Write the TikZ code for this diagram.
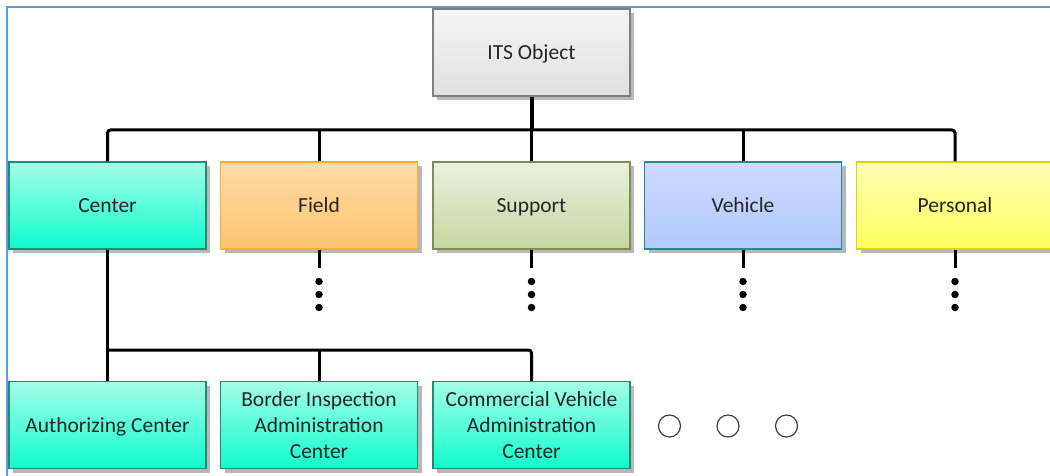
\documentclass[tikz,border=0pt]{standalone}
\usepackage{fontspec}
\setmainfont{Carlito}
\usetikzlibrary{shadows}
\definecolor{framec}{HTML}{5B9BD5}
\definecolor{txt}{HTML}{262626}
\definecolor{cenT}{HTML}{A4FDE8}\definecolor{cenB}{HTML}{0FFCCC}\definecolor{cenD}{HTML}{1E8C73}
\definecolor{fldT}{HTML}{FEDCA8}\definecolor{fldB}{HTML}{FCC46E}\definecolor{fldD}{HTML}{F7AC3C}
\definecolor{supT}{HTML}{EBF0DF}\definecolor{supB}{HTML}{C6D6A0}\definecolor{supD}{HTML}{7D8C55}
\definecolor{vehT}{HTML}{CCDBFD}\definecolor{vehB}{HTML}{B2C9FC}\definecolor{vehD}{HTML}{2A8A8A}
\definecolor{perT}{HTML}{FFFFB4}\definecolor{perB}{HTML}{FFFF5E}\definecolor{perD}{HTML}{D8D800}
\definecolor{itsT}{HTML}{F5F5F5}\definecolor{itsB}{HTML}{E0E0E0}\definecolor{itsD}{HTML}{7F7F7F}
\definecolor{shad}{HTML}{B8B8B8}
\tikzset{
  box/.style={draw, line width=1.2pt, minimum width=197pt, minimum height=87pt,
    inner sep=0pt, align=center, text=txt, font=\fontsize{21.5}{26}\selectfont,
    drop shadow={shadow xshift=4pt, shadow yshift=-4pt, fill=shad, opacity=1}},
  oneline/.style={text depth=0pt},
  cenbox/.style={box, draw=cenD, top color=cenT, bottom color=cenB},
  fldbox/.style={box, draw=fldD, top color=fldT, bottom color=fldB},
  supbox/.style={box, draw=supD, top color=supT, bottom color=supB},
  vehbox/.style={box, draw=vehD, top color=vehT, bottom color=vehB},
  perbox/.style={box, draw=perD, top color=perT, bottom color=perB},
  itsbox/.style={box, draw=itsD, top color=itsT, bottom color=itsB},
  wire/.style={line width=3pt, black, rounded corners=3pt},
  dotn/.style={circle, fill=black, inner sep=0pt, minimum size=7.5pt},
  ring/.style={circle, draw=black!75, line width=1.2pt, fill=white, inner sep=0pt, minimum size=22pt},
}
\begin{document}
\begin{tikzpicture}[x=1pt, y=-1pt]
\clip (0,0) rectangle (1050,476);
\useasboundingbox (0,0) rectangle (1050,476);
\draw[framec, line width=1.5pt] (7,476) -- (7,7) -- (1050,7);

\node[itsbox, oneline] (its) at (531.5,52.5) {ITS Object};
\node[cenbox, oneline] (center) at (107.5,205.5) {Center};
\node[fldbox, oneline] (field) at (319,205.5) {Field};
\node[supbox, oneline] (support) at (531.5,205.5) {Support};
\node[vehbox, oneline] (vehicle) at (743,205.5) {Vehicle};
\node[perbox, oneline] (personal) at (955,205.5) {Personal};

\node[cenbox, oneline] (auth) at (107.5,425) {Authorizing Center};
\node[cenbox] (border) at (319,425) {Border Inspection\\Administration\\Center};
\node[cenbox] (cva) at (531.5,425) {Commercial Vehicle\\Administration\\Center};

\coordinate (bus) at (531.5,130);
\coordinate (bus2) at (319,350);

% top bus
\draw[wire] (center.north) -- (center.north |- bus) -- (personal.north |- bus) -- (personal.north);
\draw[line width=4pt] (its.south) -- (bus);
\draw[wire] (bus) -- (support.north);
\draw[wire] (field.north |- bus) -- (field.north);
\draw[wire] (vehicle.north |- bus) -- (vehicle.north);

% dots
\foreach \n/\x in {f/319, s/531.5, v/743, p/955}{
  \coordinate (\n0) at (\x,268);
  \node[dotn] (\n1) at (\x,281.5) {};
  \node[dotn] (\n2) at (\x,294.5) {};
  \node[dotn] (\n3) at (\x,307.5) {};
}
\draw[line width=3pt] (field.south) -- (f0);
\draw[line width=3pt] (support.south) -- (s0);
\draw[line width=3pt] (vehicle.south) -- (v0);
\draw[line width=3pt] (personal.south) -- (p0);

% child bus
\draw[wire] (center.south) -- (auth.north);
\draw[wire] (center.south |- bus2) -- (cva.north |- bus2) -- (cva.north);
\draw[wire] (bus2) -- (border.north);

\node[ring] (r1) at (669.5,426) {};
\node[ring] (r2) at (728,426) {};
\node[ring] (r3) at (786.5,426) {};
\end{tikzpicture}
\end{document}
